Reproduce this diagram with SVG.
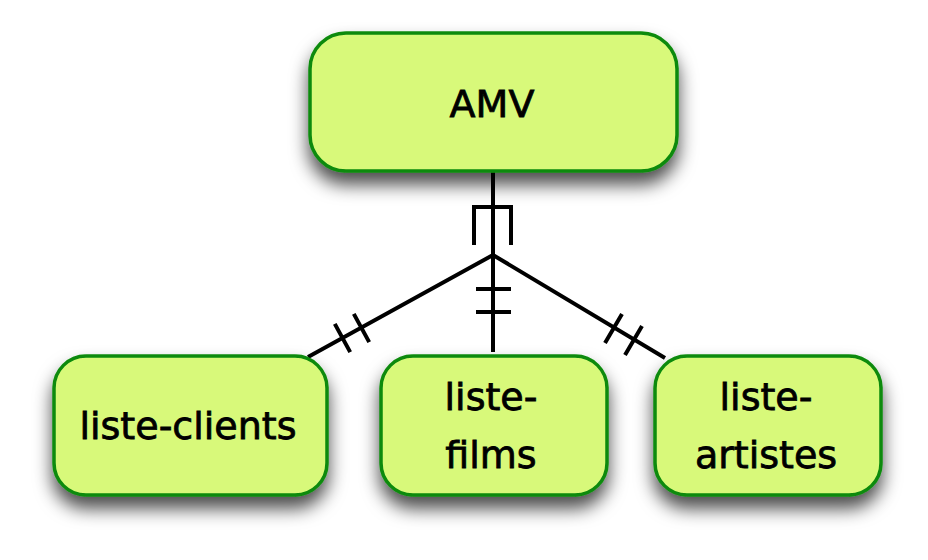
<svg xmlns="http://www.w3.org/2000/svg" width="928" height="560" viewBox="0 0 928 560">
<defs>
<filter id="sh" x="-20%" y="-20%" width="140%" height="180%">
<feDropShadow dx="0" dy="12" stdDeviation="9" flood-color="#000" flood-opacity="0.7"/>
</filter>
<style>
.box{fill:#d8f97a;stroke:#0a8a0a;stroke-width:3.5;filter:url(#sh)}
.lbl{font-family:"DejaVu Sans","Liberation Sans",sans-serif;font-size:38px;fill:#000;stroke:#000;stroke-width:0.8;text-anchor:middle}
.c{stroke:#000;stroke-width:4;fill:none}
</style>
</defs>
<rect width="928" height="560" fill="#fff"/>
<g id="connectors">
<path class="c" d="M493,172 V255 M474,245 V207 H511 V245"/>
<path class="c" d="M493,255 L308,357 M334.8,323.9 L350.2,352.1 M353.8,313.9 L369.2,342.1"/>
<path class="c" d="M493,255 V352 M476,289 H511 M476,312 H511"/>
<path class="c" d="M493,255 L665,358 M622,314 L605,343 M642,326 L625,355"/>
</g>
<g id="AMV">
<rect class="box" x="310" y="33" width="367" height="138" rx="36"/>
<text class="lbl" x="492" y="117">AMV</text>
</g>
<g id="liste-clients">
<rect class="box" x="54" y="356" width="273" height="139" rx="32"/>
<text class="lbl" x="188" y="439">liste-clients</text>
</g>
<g id="liste-films">
<rect class="box" x="381" y="356" width="226" height="139" rx="32"/>
<text class="lbl" x="491" y="410">liste-</text>
<text class="lbl" x="491" y="468">films</text>
</g>
<g id="liste-artistes">
<rect class="box" x="655" y="356" width="226" height="139" rx="32"/>
<text class="lbl" x="766" y="410">liste-</text>
<text class="lbl" x="766" y="468">artistes</text>
</g>
</svg>
